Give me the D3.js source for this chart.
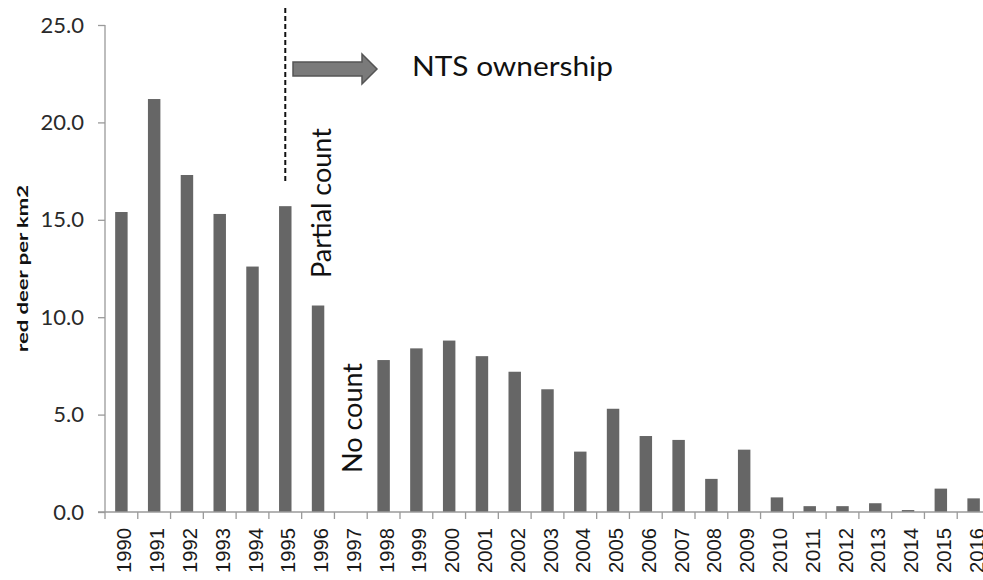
<!DOCTYPE html>
<html>
<head>
<meta charset="utf-8">
<script src="https://cdn.jsdelivr.net/npm/d3@7"></script>
<style>
  html, body { margin: 0; padding: 0; background: #fff; }
  svg { display: block; }
</style>
</head>
<body>
<svg id="chart" width="983" height="580"></svg>
<script>
const years = ["1990","1991","1992","1993","1994","1995","1996","1997","1998","1999","2000","2001","2002","2003","2004","2005","2006","2007","2008","2009","2010","2011","2012","2013","2014","2015","2016"];
const density = [15.4, 21.2, 17.3, 15.3, 12.6, 15.7, 10.6, null, 7.8, 8.4, 8.8, 8.0, 7.2, 6.3, 3.1, 5.3, 3.9, 3.7, 1.7, 3.2, 0.75, 0.3, 0.3, 0.45, 0.1, 1.2, 0.7];
const yTicks = [0, 5, 10, 15, 20, 25];
const yTitle = "red deer per km2";
const noteOwnership = "NTS ownership";
const notePartial = "Partial count";
const noteNone = "No count";
const ownershipYear = "1995";
const partialYear = "1996";
const noneYear = "1997";

const svg = d3.select("#chart");
const mLeft = 105, mRight = 990, mTop = 25, mBottom = 512;

const x = d3.scaleBand().domain(years).range([mLeft, mRight]).paddingInner(0.62).paddingOuter(0.31);
const xb = d3.scaleBand().domain(years).range([mLeft, mRight]);
const y = d3.scaleLinear().domain([0, 25]).range([mBottom, mTop]);

// bars
svg.append("g").selectAll("rect")
  .data(years.map((yr, i) => ({yr, v: density[i]})).filter(d => d.v !== null))
  .join("rect")
  .attr("x", d => x(d.yr))
  .attr("width", x.bandwidth())
  .attr("y", d => y(d.v))
  .attr("height", d => y(0) - y(d.v))
  .attr("fill", "#666666");

// y axis
const yAxis = svg.append("g")
  .attr("transform", `translate(${mLeft},0)`)
  .call(d3.axisLeft(y).tickValues(yTicks).tickFormat(d3.format(".1f")).tickSize(7).tickPadding(14).tickSizeOuter(0));
yAxis.select(".domain").attr("stroke", "#9a9a9a").attr("stroke-width", 1.3)
  .attr("d", `M0,${mTop}V${mBottom + 7}`);
yAxis.selectAll(".tick line").attr("stroke", "#9a9a9a").attr("stroke-width", 1.3);
yAxis.selectAll(".tick text").attr("font-family", "Lato, 'Open Sans', sans-serif").attr("font-size", 22).attr("fill", "#2a2a2a");

// x axis
const xAxis = svg.append("g")
  .attr("transform", `translate(0,${mBottom})`);
xAxis.append("line").attr("x1", mLeft - 7).attr("x2", mRight).attr("y1", 0).attr("y2", 0)
  .attr("stroke", "#9a9a9a").attr("stroke-width", 1.3);
xAxis.selectAll("line.tk").data(years.slice(1)).join("line").attr("class", "tk")
  .attr("x1", d => xb(d)).attr("x2", d => xb(d)).attr("y1", 0).attr("y2", 7)
  .attr("stroke", "#9a9a9a").attr("stroke-width", 1.3);
xAxis.selectAll("text").data(years).join("text")
  .attr("transform", d => `translate(${xb(d) + xb.bandwidth() / 2 + 10},16) rotate(-90)`)
  .attr("text-anchor", "end")
  .attr("font-family", "'Liberation Sans', Arial, sans-serif")
  .attr("font-size", 20)
  .attr("textLength", 45)
  .attr("lengthAdjust", "spacingAndGlyphs")
  .attr("fill", "#1a1a1a")
  .text(d => d);

// y title
svg.append("text")
  .attr("transform", `translate(28,${(185 + 352) / 2}) rotate(-90)`)
  .attr("text-anchor", "middle")
  .attr("font-family", "Lato, 'Open Sans', sans-serif")
  .attr("font-weight", "bold")
  .attr("font-size", 16)
  .attr("textLength", 167)
  .attr("lengthAdjust", "spacingAndGlyphs")
  .attr("fill", "#111")
  .text(yTitle);

// dashed ownership line at 1995 bar center
const dashX = x(ownershipYear) + x.bandwidth() / 2;
svg.append("line")
  .attr("x1", dashX).attr("x2", dashX)
  .attr("y1", 8).attr("y2", 183)
  .attr("stroke", "#111").attr("stroke-width", 2)
  .attr("stroke-dasharray", "5,3");

// block arrow
const ax0 = 293, ax1 = 377, ay = 69;
svg.append("path")
  .attr("d", `M${ax0},${ay - 7}H${ax1 - 15}V${ay - 15}L${ax1},${ay}L${ax1 - 15},${ay + 15}V${ay + 7}H${ax0}Z`)
  .attr("fill", "#7a7a7a").attr("stroke", "#555").attr("stroke-width", 1.5);

svg.append("text")
  .attr("x", 412).attr("y", 76)
  .attr("font-family", "Lato, 'Open Sans', sans-serif")
  .attr("font-size", 27)
  .attr("textLength", 201)
  .attr("lengthAdjust", "spacingAndGlyphs")
  .attr("fill", "#111")
  .text(noteOwnership);

// Partial count
svg.append("text")
  .attr("transform", `translate(${xb(partialYear) + xb.bandwidth() - 3},278) rotate(-90)`)
  .attr("font-family", "Lato, 'Open Sans', sans-serif")
  .attr("font-size", 27)
  .attr("fill", "#111")
  .text(notePartial);

// No count
svg.append("text")
  .attr("transform", `translate(${xb(noneYear) + xb.bandwidth() / 2 + 11},473) rotate(-90)`)
  .attr("font-family", "Lato, 'Open Sans', sans-serif")
  .attr("font-size", 27)
  .attr("fill", "#111")
  .text(noteNone);
</script>
</body>
</html>
